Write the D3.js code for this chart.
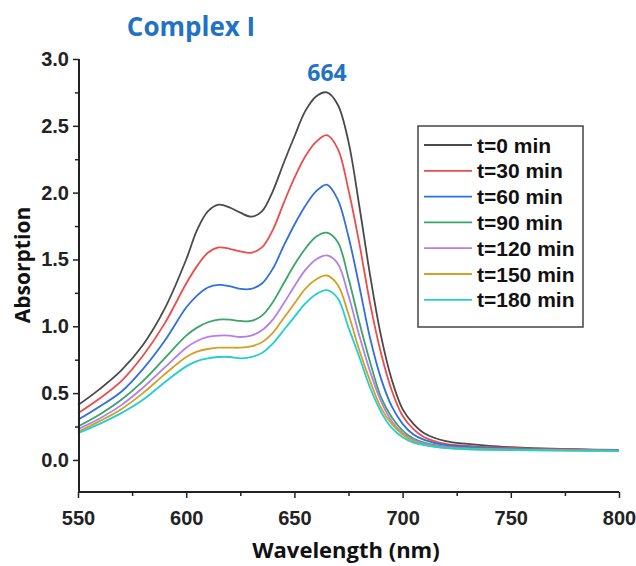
<!DOCTYPE html>
<html><head><meta charset="utf-8">
<script src="https://cdn.jsdelivr.net/npm/d3@7"></script>
<style>body{margin:0;background:#fff}svg{display:block}</style>
</head><body>
<svg id="c" width="636" height="566"></svg>
<script>
const wavelengths = [550,560,570,580,590,600,605,610,615,620,625,630,635,640,645,650,655,660,665,670,675,680,685,690,695,700,705,710,720,730,740,750,760,780,800];
const seriesNames = ["t=0 min","t=30 min","t=60 min","t=90 min","t=120 min","t=150 min","t=180 min"];
const seriesColors = ["#4a4a4a","#ef4b4b","#2f6fe0","#3aa56a","#b47fe6","#d3a024","#22cfd0"];
const t0   = [0.41,0.53,0.67,0.86,1.13,1.50,1.72,1.86,1.91,1.89,1.85,1.82,1.86,2.01,2.22,2.42,2.61,2.72,2.75,2.66,2.38,1.90,1.38,0.93,0.60,0.38,0.27,0.20,0.14,0.12,0.105,0.095,0.088,0.08,0.075];
const t30  = [0.35,0.46,0.59,0.78,1.02,1.32,1.45,1.55,1.59,1.58,1.56,1.55,1.59,1.72,1.92,2.11,2.27,2.38,2.43,2.33,2.02,1.62,1.17,0.80,0.52,0.33,0.23,0.17,0.12,0.105,0.095,0.09,0.085,0.078,0.073];
const t60  = [0.30,0.40,0.51,0.68,0.89,1.14,1.23,1.29,1.31,1.30,1.28,1.28,1.32,1.43,1.60,1.76,1.90,2.01,2.06,1.95,1.67,1.30,0.91,0.61,0.40,0.27,0.19,0.15,0.11,0.10,0.09,0.085,0.08,0.075,0.072];
const t90  = [0.25,0.34,0.45,0.59,0.76,0.93,0.99,1.03,1.05,1.05,1.04,1.04,1.08,1.18,1.32,1.46,1.58,1.67,1.70,1.63,1.36,1.03,0.73,0.47,0.32,0.22,0.16,0.13,0.10,0.09,0.085,0.08,0.078,0.073,0.07];
const t120 = [0.23,0.31,0.41,0.54,0.69,0.84,0.89,0.92,0.93,0.93,0.92,0.93,0.97,1.05,1.17,1.30,1.42,1.50,1.53,1.47,1.23,0.93,0.66,0.44,0.29,0.20,0.15,0.12,0.095,0.085,0.08,0.078,0.075,0.072,0.07];
const t150 = [0.21,0.29,0.38,0.50,0.64,0.77,0.81,0.83,0.84,0.84,0.84,0.85,0.88,0.95,1.06,1.17,1.28,1.35,1.38,1.31,1.09,0.82,0.59,0.39,0.27,0.19,0.14,0.115,0.09,0.082,0.078,0.075,0.073,0.07,0.068];
const t180 = [0.20,0.27,0.35,0.45,0.58,0.70,0.74,0.76,0.77,0.77,0.76,0.77,0.80,0.87,0.97,1.07,1.17,1.24,1.27,1.21,0.99,0.77,0.54,0.36,0.24,0.17,0.13,0.11,0.088,0.08,0.076,0.074,0.072,0.069,0.067];
const seriesValues = [t0,t30,t60,t90,t120,t150,t180];
const xTicks = [550,600,650,700,750,800];
const yTicks = [0.0,0.5,1.0,1.5,2.0,2.5,3.0];

const svg = d3.select("#c");
const x = d3.scaleLinear().domain([550,800]).range([78,619]);
const y = d3.scaleLinear().domain([-0.24,3.0]).range([492,59]);

const line = d3.line().x((d,i)=>x(wavelengths[i])).y(d=>y(d)).curve(d3.curveCatmullRom.alpha(0.5));
seriesValues.forEach((vals,k)=>{
  svg.append("path").datum(vals).attr("d",line).attr("fill","none")
    .attr("stroke",seriesColors[k]).attr("stroke-width",1.8);
});

// axes
const tickFont = "'Liberation Sans', Arial, sans-serif";
const xAxis = svg.append("g").attr("transform","translate(0,492)")
  .call(d3.axisBottom(x).tickValues(xTicks).tickFormat(d3.format("d")).tickSize(6).tickPadding(13));
svg.append("g").attr("transform","translate(0,492)")
  .call(d3.axisBottom(x).tickValues(d3.range(575,800,50)).tickFormat("").tickSize(4))
  .select(".domain").remove();
const yAxis = svg.append("g").attr("transform","translate(79,0)")
  .call(d3.axisLeft(y).tickValues(yTicks).tickFormat(d3.format(".1f")).tickSize(6).tickPadding(4));
svg.append("g").attr("transform","translate(79,0)")
  .call(d3.axisLeft(y).tickValues([0.25,0.75,1.25,1.75,2.25,2.75]).tickFormat("").tickSize(4))
  .select(".domain").remove();
svg.selectAll(".domain").attr("stroke","#222").attr("stroke-width",2);
svg.selectAll(".tick line").attr("stroke","#222").attr("stroke-width",1.5);
svg.selectAll(".tick text").attr("font-family",tickFont).attr("font-weight","bold")
  .attr("font-size",20).attr("fill","#222");
xAxis.select(".domain").attr("d",`M${x(550)},0H${x(800)}`);
yAxis.select(".domain").attr("d",`M0,${y(-0.24)}V${y(3.0)}`);

// axis titles
const titleFont = "'Open Sans', 'Noto Sans', sans-serif";
svg.append("text").attr("x",346).attr("y",558).attr("text-anchor","middle")
  .attr("font-family",titleFont).attr("font-weight","bold").attr("font-size",22).attr("fill","#111")
  .text("Wavelength (nm)");
svg.append("text").attr("transform","translate(30,265) rotate(-90)").attr("text-anchor","middle")
  .attr("font-family",titleFont).attr("font-weight","bold").attr("font-size",21).attr("fill","#111")
  .text("Absorption");

// chart title and peak annotation
svg.append("text").attr("x",191).attr("y",36).attr("text-anchor","middle")
  .attr("font-family",titleFont).attr("font-weight","bold").attr("font-size",26).attr("fill","#1f72c4")
  .text("Complex I");
svg.append("text").attr("x",327).attr("y",81).attr("text-anchor","middle")
  .attr("font-family",titleFont).attr("font-weight","bold").attr("font-size",23).attr("fill","#1f72c4")
  .text("664");

// legend
const lg = svg.append("g");
lg.append("rect").attr("x",418).attr("y",126).attr("width",165).attr("height",201)
  .attr("fill","#fff").attr("stroke","#444").attr("stroke-width",1.5);
seriesNames.forEach((n,k)=>{
  const yy = 145 + k*25.8;
  lg.append("line").attr("x1",424).attr("x2",472).attr("y1",yy).attr("y2",yy)
    .attr("stroke",seriesColors[k]).attr("stroke-width",1.8);
  lg.append("text").attr("x",477).attr("y",yy+7.5).attr("font-family",tickFont)
    .attr("font-weight","bold").attr("font-size",21).attr("fill","#111").text(n);
});
</script>
</body></html>
